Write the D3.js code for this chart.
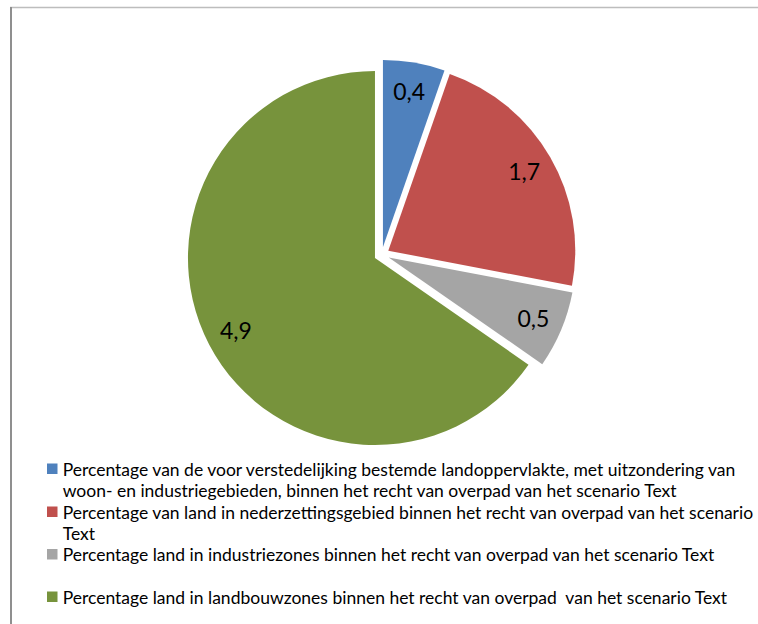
<!DOCTYPE html>
<html>
<head>
<meta charset="utf-8">
<script src="https://cdn.jsdelivr.net/npm/d3@7"></script>
<style>
  html, body { margin: 0; padding: 0; background: #fff; }
  svg { display: block; }
  text { font-family: Lato, "Open Sans", sans-serif; fill: #000; white-space: pre; }
</style>
</head>
<body>
<svg id="chart" width="758" height="624"></svg>
<script>
// Share of land within the right of way, per zone type
const categories = [
  "Percentage van de voor verstedelijking bestemde landoppervlakte, met uitzondering van\nwoon- en industriegebieden, binnen het recht van overpad van het scenario Text",
  "Percentage van land in nederzettingsgebied binnen het recht van overpad van het scenario\nText",
  "Percentage land in industriezones binnen het recht van overpad van het scenario Text",
  "Percentage land in landbouwzones binnen het recht van overpad  van het scenario Text"
];
const values = [0.4, 1.7, 0.5, 4.9];
const valueLabels = ["0,4", "1,7", "0,5", "4,9"];
const colors = ["#4F81BD", "#C0504D", "#A5A5A5", "#77933C"];

const svg = d3.select("#chart");
const W = 758, H = 624;

// Chart area frame (only top and left edges fall inside the view)
svg.append("line").attr("x1", 10).attr("y1", 7.5).attr("x2", W).attr("y2", 7.5)
  .attr("stroke", "#bdbdbd").attr("stroke-width", 1.5);
svg.append("line").attr("x1", 11).attr("y1", 7).attr("x2", 11).attr("y2", H)
  .attr("stroke", "#8f8f8f").attr("stroke-width", 2);

// Pie
const cx = 381.7, cy = 254.5, radius = 187, explode = 7.6, labelRadius = 157;
const data = values.map((v, i) => ({ value: v, label: valueLabels[i], color: colors[i] }));
const pie = d3.pie().value(d => d.value).sort(null);
const arc = d3.arc().innerRadius(0).outerRadius(radius);
const arcs = pie(data);

const g = svg.append("g").attr("transform", `translate(${cx},${cy})`);
const slice = g.selectAll("g.slice").data(arcs).join("g")
  .attr("class", "slice")
  .attr("transform", d => {
    const a = (d.startAngle + d.endAngle) / 2;
    return `translate(${explode * Math.sin(a)},${-explode * Math.cos(a)})`;
  });

slice.append("path")
  .attr("d", arc)
  .attr("fill", d => d.data.color);

slice.append("text")
  .attr("x", d => labelRadius * Math.sin((d.startAngle + d.endAngle) / 2))
  .attr("y", d => -labelRadius * Math.cos((d.startAngle + d.endAngle) / 2))
  .attr("text-anchor", "middle")
  .attr("dy", "0.36em")
  .style("font-size", "23px")
  .text(d => d.data.label);

// Legend
const legendX = 47, textX = 62.7, lineH = 21.4;
const legendRows = [475.5, 518.5, 561, 603.5]; // baseline of the first line of each entry
const legend = svg.append("g").attr("class", "legend");
categories.forEach((c, i) => {
  const y0 = legendRows[i];
  legend.append("rect")
    .attr("x", legendX).attr("y", y0 - 12)
    .attr("width", 10.5).attr("height", 10.5)
    .attr("fill", colors[i]);
  const t = legend.append("text")
    .attr("x", textX).attr("y", y0)
    .style("font-size", "17.5px");
  c.split("\n").forEach((line, j) => {
    t.append("tspan").attr("x", textX).attr("y", y0 + j * lineH).text(line);
  });
});
</script>
</body>
</html>
